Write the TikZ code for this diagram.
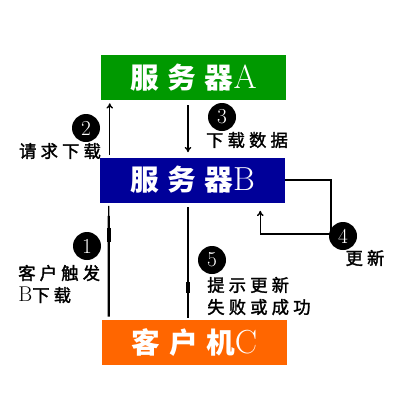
\documentclass[tikz,border=0pt]{standalone}
\usepackage{fontspec}
\newfontfamily\cjk[LetterSpace=24,FakeBold=1.8]{Noto Sans CJK SC}
\newfontfamily\cjkbox[LetterSpace=30]{Noto Sans CJK SC}
\usepackage{xcolor}
\usetikzlibrary{arrows.meta,calc}
\definecolor{srvA}{RGB}{0,153,0}
\definecolor{srvB}{RGB}{0,0,153}
\definecolor{cliC}{RGB}{255,102,0}

\begin{document}
\begin{tikzpicture}[
    x=0.75pt,y=-0.75pt,
    server/.style={rectangle,text=white,minimum width=138.75pt,minimum height=33.75pt,inner sep=0pt,
        font=\fontsize{21.5}{24}\selectfont},
    num/.style={circle,fill=black,text=white,minimum size=21pt,inner sep=0pt,font=\fontsize{16}{16}\selectfont},
    note/.style={font=\fontsize{13}{16.5}\selectfont\cjk,inner sep=0pt},
    call/.style={-{To[length=4pt,width=5pt]},line width=1pt},
    link/.style={line width=1.8pt},
    knot/.style={line width=3.2pt}
]
\useasboundingbox (0,0) rectangle (400,400);

\node[server,fill=srvA] (A) at (193.5,77.5) {{\cjkbox\bfseries 服务器}{\fontsize{25}{26}\selectfont A}};
\node[server,fill=srvB] (B) at (192.5,180) {{\cjkbox\bfseries 服务器}{\fontsize{25}{26}\selectfont B}};
\node[server,fill=cliC] (C) at (194.5,342.5) {{\cjkbox\bfseries 客户机}{\fontsize{25}{26}\selectfont C}};

% B <-> A
\draw[call] ($(B.north west)+(10,-2)$) -- ($(A.south west)+(9,3)$);
\draw[call] ($(A.south)+(-5.5,5)$) -- ($(B.north)+(-4.5,-5)$);

% B updates itself
\coordinate (turn) at (331,234);
\draw[call,line width=1.1pt] (B.east) -| (turn) -| ($(B.south east)+(-25,8)$);

% C -> B and B -> C
\coordinate (c1) at ($(B.south west)+(9,3)$);
\coordinate (c2) at ($(C.north west)+(7,-3)$);
\draw[line width=0.8pt] (c1) -- ($(c1)!0.09!(c2)$);
\draw[link] ($(c1)!0.09!(c2)$) -- (c2);
\draw[knot] ($(c1)!0.2!(c2)$) -- ($(c1)!0.33!(c2)$);

\coordinate (d1) at ($(B.south)+(-4.5,4.5)$);
\coordinate (d2) at ($(C.north)+(-6.5,-2)$);
\draw[link] (d1) -- ($(d1)!0.77!(d2)$);
\draw[line width=0.8pt] ($(d1)!0.77!(d2)$) -- (d2);
\draw[knot] ($(d1)!0.68!(d2)$) -- ($(d1)!0.78!(d2)$);

\node[num] (n1) at (87,246) {1};
\node[num] (n2) at (86,128) {2};
\node[num] (n3) at (222,117) {3};
\node[num] (n4) at (343,236) {4};
\node[num] (n5) at (212,260) {5};

\node[note] (t2) at (60,151) {请求下载};
\node[note] (t3) at (247,140) {下载数据};
\node[note] (t4) at (365,258) {更新};
\node[note,align=left,anchor=west] (t1) at (18,284) {客户触发\\{\rmfamily\fontsize{16}{16.5}\selectfont B}下载};
\node[note,align=left,anchor=west] (t5) at (207,296) {提示更新\\失败或成功};
\end{tikzpicture}
\end{document}
